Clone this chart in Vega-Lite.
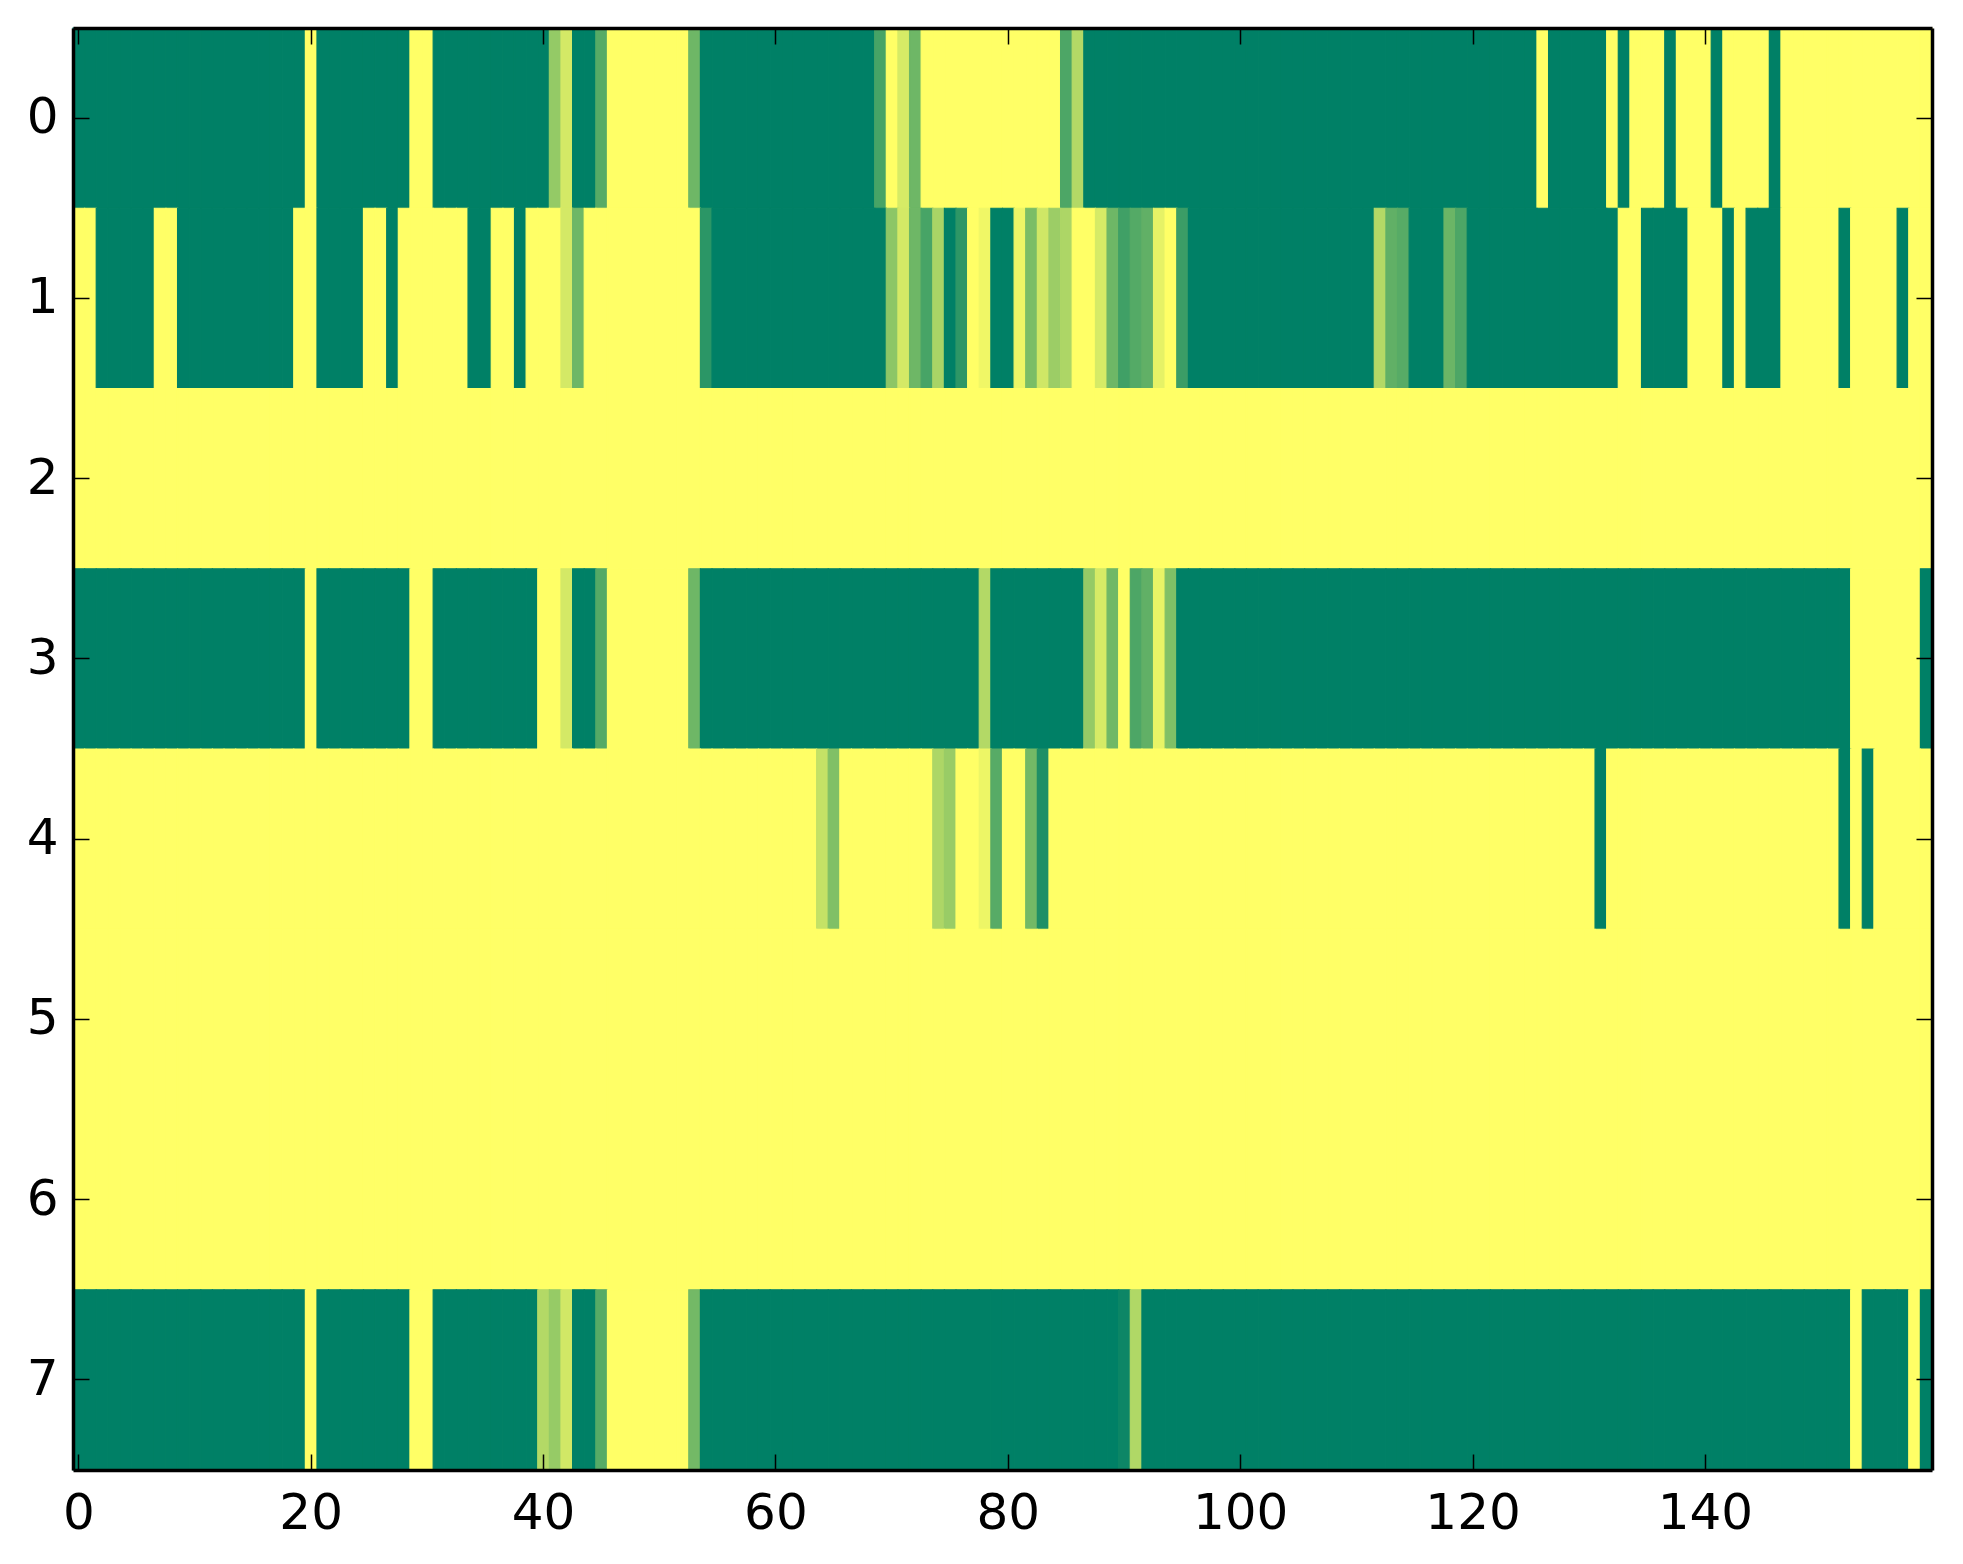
{
  "$schema": "https://vega.github.io/schema/vega-lite/v6.json",
  "width": 1859,
  "height": 1442,
  "autosize": {"type": "none"},
  "padding": {"left": 73, "top": 28, "right": 31, "bottom": 94},
  "background": "white",
  "config": {
    "view": {"stroke": null},
    "axis": {
      "labelFont": "DejaVu Sans",
      "labelFontSize": 50,
      "labelColor": "black",
      "domainColor": "black",
      "domainWidth": 3.5,
      "tickColor": "black",
      "tickWidth": 1.5,
      "tickSize": -16,
      "grid": false,
      "title": null
    }
  },
  "data": {
    "values": [
      {"r":0,"c":0,"v":1},{"r":0,"c":1,"v":1},{"r":0,"c":2,"v":1},{"r":0,"c":3,"v":1},{"r":0,"c":4,"v":1},{"r":0,"c":5,"v":1},{"r":0,"c":6,"v":1},{"r":0,"c":7,"v":1},{"r":0,"c":8,"v":1},{"r":0,"c":9,"v":1},
      {"r":0,"c":10,"v":1},{"r":0,"c":11,"v":1},{"r":0,"c":12,"v":1},{"r":0,"c":13,"v":1},{"r":0,"c":14,"v":1},{"r":0,"c":15,"v":1},{"r":0,"c":16,"v":1},{"r":0,"c":17,"v":1},{"r":0,"c":18,"v":1},{"r":0,"c":19,"v":1},
      {"r":0,"c":20,"v":0},{"r":0,"c":21,"v":1},{"r":0,"c":22,"v":1},{"r":0,"c":23,"v":1},{"r":0,"c":24,"v":1},{"r":0,"c":25,"v":1},{"r":0,"c":26,"v":1},{"r":0,"c":27,"v":1},{"r":0,"c":28,"v":1},{"r":0,"c":29,"v":0},
      {"r":0,"c":30,"v":0},{"r":0,"c":31,"v":1},{"r":0,"c":32,"v":1},{"r":0,"c":33,"v":1},{"r":0,"c":34,"v":1},{"r":0,"c":35,"v":1},{"r":0,"c":36,"v":1},{"r":0,"c":37,"v":1},{"r":0,"c":38,"v":1},{"r":0,"c":39,"v":1},
      {"r":0,"c":40,"v":1},{"r":0,"c":41,"v":0.42},{"r":0,"c":42,"v":0.17},{"r":0,"c":43,"v":1},{"r":0,"c":44,"v":1},{"r":0,"c":45,"v":0.66},{"r":0,"c":46,"v":0},{"r":0,"c":47,"v":0},{"r":0,"c":48,"v":0},{"r":0,"c":49,"v":0},
      {"r":0,"c":50,"v":0},{"r":0,"c":51,"v":0},{"r":0,"c":52,"v":0},{"r":0,"c":53,"v":0.57},{"r":0,"c":54,"v":1},{"r":0,"c":55,"v":1},{"r":0,"c":56,"v":1},{"r":0,"c":57,"v":1},{"r":0,"c":58,"v":1},{"r":0,"c":59,"v":1},
      {"r":0,"c":60,"v":1},{"r":0,"c":61,"v":1},{"r":0,"c":62,"v":1},{"r":0,"c":63,"v":1},{"r":0,"c":64,"v":1},{"r":0,"c":65,"v":1},{"r":0,"c":66,"v":1},{"r":0,"c":67,"v":1},{"r":0,"c":68,"v":1},{"r":0,"c":69,"v":0.72},
      {"r":0,"c":70,"v":0},{"r":0,"c":71,"v":0.16},{"r":0,"c":72,"v":0.57},{"r":0,"c":73,"v":0},{"r":0,"c":74,"v":0},{"r":0,"c":75,"v":0},{"r":0,"c":76,"v":0},{"r":0,"c":77,"v":0},{"r":0,"c":78,"v":0},{"r":0,"c":79,"v":0},
      {"r":0,"c":80,"v":0},{"r":0,"c":81,"v":0},{"r":0,"c":82,"v":0},{"r":0,"c":83,"v":0},{"r":0,"c":84,"v":0},{"r":0,"c":85,"v":0.7},{"r":0,"c":86,"v":0.3},{"r":0,"c":87,"v":1},{"r":0,"c":88,"v":1},{"r":0,"c":89,"v":1},
      {"r":0,"c":90,"v":1},{"r":0,"c":91,"v":1},{"r":0,"c":92,"v":1},{"r":0,"c":93,"v":1},{"r":0,"c":94,"v":1},{"r":0,"c":95,"v":1},{"r":0,"c":96,"v":1},{"r":0,"c":97,"v":1},{"r":0,"c":98,"v":1},{"r":0,"c":99,"v":1},
      {"r":0,"c":100,"v":1},{"r":0,"c":101,"v":1},{"r":0,"c":102,"v":1},{"r":0,"c":103,"v":1},{"r":0,"c":104,"v":1},{"r":0,"c":105,"v":1},{"r":0,"c":106,"v":1},{"r":0,"c":107,"v":1},{"r":0,"c":108,"v":1},{"r":0,"c":109,"v":1},
      {"r":0,"c":110,"v":1},{"r":0,"c":111,"v":1},{"r":0,"c":112,"v":1},{"r":0,"c":113,"v":1},{"r":0,"c":114,"v":1},{"r":0,"c":115,"v":1},{"r":0,"c":116,"v":1},{"r":0,"c":117,"v":1},{"r":0,"c":118,"v":1},{"r":0,"c":119,"v":1},
      {"r":0,"c":120,"v":1},{"r":0,"c":121,"v":1},{"r":0,"c":122,"v":1},{"r":0,"c":123,"v":1},{"r":0,"c":124,"v":1},{"r":0,"c":125,"v":1},{"r":0,"c":126,"v":0},{"r":0,"c":127,"v":1},{"r":0,"c":128,"v":1},{"r":0,"c":129,"v":1},
      {"r":0,"c":130,"v":1},{"r":0,"c":131,"v":1},{"r":0,"c":132,"v":0},{"r":0,"c":133,"v":1},{"r":0,"c":134,"v":0},{"r":0,"c":135,"v":0},{"r":0,"c":136,"v":0},{"r":0,"c":137,"v":1},{"r":0,"c":138,"v":0},{"r":0,"c":139,"v":0},
      {"r":0,"c":140,"v":0},{"r":0,"c":141,"v":1},{"r":0,"c":142,"v":0},{"r":0,"c":143,"v":0},{"r":0,"c":144,"v":0},{"r":0,"c":145,"v":0},{"r":0,"c":146,"v":1},{"r":0,"c":147,"v":0},{"r":0,"c":148,"v":0},{"r":0,"c":149,"v":0},
      {"r":0,"c":150,"v":0},{"r":0,"c":151,"v":0},{"r":0,"c":152,"v":0},{"r":0,"c":153,"v":0},{"r":0,"c":154,"v":0},{"r":0,"c":155,"v":0},{"r":0,"c":156,"v":0},{"r":0,"c":157,"v":0},{"r":0,"c":158,"v":0},{"r":0,"c":159,"v":0},

      {"r":1,"c":0,"v":0},{"r":1,"c":1,"v":0},{"r":1,"c":2,"v":1},{"r":1,"c":3,"v":1},{"r":1,"c":4,"v":1},{"r":1,"c":5,"v":1},{"r":1,"c":6,"v":1},{"r":1,"c":7,"v":0},{"r":1,"c":8,"v":0},{"r":1,"c":9,"v":1},
      {"r":1,"c":10,"v":1},{"r":1,"c":11,"v":1},{"r":1,"c":12,"v":1},{"r":1,"c":13,"v":1},{"r":1,"c":14,"v":1},{"r":1,"c":15,"v":1},{"r":1,"c":16,"v":1},{"r":1,"c":17,"v":1},{"r":1,"c":18,"v":1},{"r":1,"c":19,"v":0},
      {"r":1,"c":20,"v":0},{"r":1,"c":21,"v":1},{"r":1,"c":22,"v":1},{"r":1,"c":23,"v":1},{"r":1,"c":24,"v":1},{"r":1,"c":25,"v":0},{"r":1,"c":26,"v":0},{"r":1,"c":27,"v":1},{"r":1,"c":28,"v":0},{"r":1,"c":29,"v":0},
      {"r":1,"c":30,"v":0},{"r":1,"c":31,"v":0},{"r":1,"c":32,"v":0},{"r":1,"c":33,"v":0},{"r":1,"c":34,"v":1},{"r":1,"c":35,"v":1},{"r":1,"c":36,"v":0},{"r":1,"c":37,"v":0},{"r":1,"c":38,"v":1},{"r":1,"c":39,"v":0},
      {"r":1,"c":40,"v":0},{"r":1,"c":41,"v":0},{"r":1,"c":42,"v":0.17},{"r":1,"c":43,"v":0.57},{"r":1,"c":44,"v":0},{"r":1,"c":45,"v":0},{"r":1,"c":46,"v":0},{"r":1,"c":47,"v":0},{"r":1,"c":48,"v":0},{"r":1,"c":49,"v":0},
      {"r":1,"c":50,"v":0},{"r":1,"c":51,"v":0},{"r":1,"c":52,"v":0},{"r":1,"c":53,"v":0},{"r":1,"c":54,"v":0.83},{"r":1,"c":55,"v":1},{"r":1,"c":56,"v":1},{"r":1,"c":57,"v":1},{"r":1,"c":58,"v":1},{"r":1,"c":59,"v":1},
      {"r":1,"c":60,"v":1},{"r":1,"c":61,"v":1},{"r":1,"c":62,"v":1},{"r":1,"c":63,"v":1},{"r":1,"c":64,"v":1},{"r":1,"c":65,"v":1},{"r":1,"c":66,"v":1},{"r":1,"c":67,"v":1},{"r":1,"c":68,"v":1},{"r":1,"c":69,"v":1},
      {"r":1,"c":70,"v":0.45},{"r":1,"c":71,"v":0.17},{"r":1,"c":72,"v":0.57},{"r":1,"c":73,"v":0.72},{"r":1,"c":74,"v":0.34},{"r":1,"c":75,"v":1},{"r":1,"c":76,"v":0.82},{"r":1,"c":77,"v":0},{"r":1,"c":78,"v":0.06},{"r":1,"c":79,"v":1},
      {"r":1,"c":80,"v":1},{"r":1,"c":81,"v":0.07},{"r":1,"c":82,"v":0.52},{"r":1,"c":83,"v":0.19},{"r":1,"c":84,"v":0.39},{"r":1,"c":85,"v":0.32},{"r":1,"c":86,"v":0},{"r":1,"c":87,"v":0},{"r":1,"c":88,"v":0.16},{"r":1,"c":89,"v":0.57},
      {"r":1,"c":90,"v":0.75},{"r":1,"c":91,"v":0.67},{"r":1,"c":92,"v":0.62},{"r":1,"c":93,"v":0.1},{"r":1,"c":94,"v":0},{"r":1,"c":95,"v":0.77},{"r":1,"c":96,"v":1},{"r":1,"c":97,"v":1},{"r":1,"c":98,"v":1},{"r":1,"c":99,"v":1},
      {"r":1,"c":100,"v":1},{"r":1,"c":101,"v":1},{"r":1,"c":102,"v":1},{"r":1,"c":103,"v":1},{"r":1,"c":104,"v":1},{"r":1,"c":105,"v":1},{"r":1,"c":106,"v":1},{"r":1,"c":107,"v":1},{"r":1,"c":108,"v":1},{"r":1,"c":109,"v":1},
      {"r":1,"c":110,"v":1},{"r":1,"c":111,"v":1},{"r":1,"c":112,"v":0.3},{"r":1,"c":113,"v":0.62},{"r":1,"c":114,"v":0.66},{"r":1,"c":115,"v":1},{"r":1,"c":116,"v":1},{"r":1,"c":117,"v":1},{"r":1,"c":118,"v":0.58},{"r":1,"c":119,"v":0.7},
      {"r":1,"c":120,"v":1},{"r":1,"c":121,"v":1},{"r":1,"c":122,"v":1},{"r":1,"c":123,"v":1},{"r":1,"c":124,"v":1},{"r":1,"c":125,"v":1},{"r":1,"c":126,"v":1},{"r":1,"c":127,"v":1},{"r":1,"c":128,"v":1},{"r":1,"c":129,"v":1},
      {"r":1,"c":130,"v":1},{"r":1,"c":131,"v":1},{"r":1,"c":132,"v":1},{"r":1,"c":133,"v":0},{"r":1,"c":134,"v":0},{"r":1,"c":135,"v":1},{"r":1,"c":136,"v":1},{"r":1,"c":137,"v":1},{"r":1,"c":138,"v":1},{"r":1,"c":139,"v":0},
      {"r":1,"c":140,"v":0},{"r":1,"c":141,"v":0},{"r":1,"c":142,"v":1},{"r":1,"c":143,"v":0},{"r":1,"c":144,"v":1},{"r":1,"c":145,"v":1},{"r":1,"c":146,"v":1},{"r":1,"c":147,"v":0},{"r":1,"c":148,"v":0},{"r":1,"c":149,"v":0},
      {"r":1,"c":150,"v":0},{"r":1,"c":151,"v":0},{"r":1,"c":152,"v":1},{"r":1,"c":153,"v":0},{"r":1,"c":154,"v":0},{"r":1,"c":155,"v":0},{"r":1,"c":156,"v":0},{"r":1,"c":157,"v":1},{"r":1,"c":158,"v":0},{"r":1,"c":159,"v":0},

      {"r":2,"c":0,"v":0},{"r":2,"c":1,"v":0},{"r":2,"c":2,"v":0},{"r":2,"c":3,"v":0},{"r":2,"c":4,"v":0},{"r":2,"c":5,"v":0},{"r":2,"c":6,"v":0},{"r":2,"c":7,"v":0},{"r":2,"c":8,"v":0},{"r":2,"c":9,"v":0},
      {"r":2,"c":10,"v":0},{"r":2,"c":11,"v":0},{"r":2,"c":12,"v":0},{"r":2,"c":13,"v":0},{"r":2,"c":14,"v":0},{"r":2,"c":15,"v":0},{"r":2,"c":16,"v":0},{"r":2,"c":17,"v":0},{"r":2,"c":18,"v":0},{"r":2,"c":19,"v":0},
      {"r":2,"c":20,"v":0},{"r":2,"c":21,"v":0},{"r":2,"c":22,"v":0},{"r":2,"c":23,"v":0},{"r":2,"c":24,"v":0},{"r":2,"c":25,"v":0},{"r":2,"c":26,"v":0},{"r":2,"c":27,"v":0},{"r":2,"c":28,"v":0},{"r":2,"c":29,"v":0},
      {"r":2,"c":30,"v":0},{"r":2,"c":31,"v":0},{"r":2,"c":32,"v":0},{"r":2,"c":33,"v":0},{"r":2,"c":34,"v":0},{"r":2,"c":35,"v":0},{"r":2,"c":36,"v":0},{"r":2,"c":37,"v":0},{"r":2,"c":38,"v":0},{"r":2,"c":39,"v":0},
      {"r":2,"c":40,"v":0},{"r":2,"c":41,"v":0},{"r":2,"c":42,"v":0},{"r":2,"c":43,"v":0},{"r":2,"c":44,"v":0},{"r":2,"c":45,"v":0},{"r":2,"c":46,"v":0},{"r":2,"c":47,"v":0},{"r":2,"c":48,"v":0},{"r":2,"c":49,"v":0},
      {"r":2,"c":50,"v":0},{"r":2,"c":51,"v":0},{"r":2,"c":52,"v":0},{"r":2,"c":53,"v":0},{"r":2,"c":54,"v":0},{"r":2,"c":55,"v":0},{"r":2,"c":56,"v":0},{"r":2,"c":57,"v":0},{"r":2,"c":58,"v":0},{"r":2,"c":59,"v":0},
      {"r":2,"c":60,"v":0},{"r":2,"c":61,"v":0},{"r":2,"c":62,"v":0},{"r":2,"c":63,"v":0},{"r":2,"c":64,"v":0},{"r":2,"c":65,"v":0},{"r":2,"c":66,"v":0},{"r":2,"c":67,"v":0},{"r":2,"c":68,"v":0},{"r":2,"c":69,"v":0},
      {"r":2,"c":70,"v":0},{"r":2,"c":71,"v":0},{"r":2,"c":72,"v":0},{"r":2,"c":73,"v":0},{"r":2,"c":74,"v":0},{"r":2,"c":75,"v":0},{"r":2,"c":76,"v":0},{"r":2,"c":77,"v":0},{"r":2,"c":78,"v":0},{"r":2,"c":79,"v":0},
      {"r":2,"c":80,"v":0},{"r":2,"c":81,"v":0},{"r":2,"c":82,"v":0},{"r":2,"c":83,"v":0},{"r":2,"c":84,"v":0},{"r":2,"c":85,"v":0},{"r":2,"c":86,"v":0},{"r":2,"c":87,"v":0},{"r":2,"c":88,"v":0},{"r":2,"c":89,"v":0},
      {"r":2,"c":90,"v":0},{"r":2,"c":91,"v":0},{"r":2,"c":92,"v":0},{"r":2,"c":93,"v":0},{"r":2,"c":94,"v":0},{"r":2,"c":95,"v":0},{"r":2,"c":96,"v":0},{"r":2,"c":97,"v":0},{"r":2,"c":98,"v":0},{"r":2,"c":99,"v":0},
      {"r":2,"c":100,"v":0},{"r":2,"c":101,"v":0},{"r":2,"c":102,"v":0},{"r":2,"c":103,"v":0},{"r":2,"c":104,"v":0},{"r":2,"c":105,"v":0},{"r":2,"c":106,"v":0},{"r":2,"c":107,"v":0},{"r":2,"c":108,"v":0},{"r":2,"c":109,"v":0},
      {"r":2,"c":110,"v":0},{"r":2,"c":111,"v":0},{"r":2,"c":112,"v":0},{"r":2,"c":113,"v":0},{"r":2,"c":114,"v":0},{"r":2,"c":115,"v":0},{"r":2,"c":116,"v":0},{"r":2,"c":117,"v":0},{"r":2,"c":118,"v":0},{"r":2,"c":119,"v":0},
      {"r":2,"c":120,"v":0},{"r":2,"c":121,"v":0},{"r":2,"c":122,"v":0},{"r":2,"c":123,"v":0},{"r":2,"c":124,"v":0},{"r":2,"c":125,"v":0},{"r":2,"c":126,"v":0},{"r":2,"c":127,"v":0},{"r":2,"c":128,"v":0},{"r":2,"c":129,"v":0},
      {"r":2,"c":130,"v":0},{"r":2,"c":131,"v":0},{"r":2,"c":132,"v":0},{"r":2,"c":133,"v":0},{"r":2,"c":134,"v":0},{"r":2,"c":135,"v":0},{"r":2,"c":136,"v":0},{"r":2,"c":137,"v":0},{"r":2,"c":138,"v":0},{"r":2,"c":139,"v":0},
      {"r":2,"c":140,"v":0},{"r":2,"c":141,"v":0},{"r":2,"c":142,"v":0},{"r":2,"c":143,"v":0},{"r":2,"c":144,"v":0},{"r":2,"c":145,"v":0},{"r":2,"c":146,"v":0},{"r":2,"c":147,"v":0},{"r":2,"c":148,"v":0},{"r":2,"c":149,"v":0},
      {"r":2,"c":150,"v":0},{"r":2,"c":151,"v":0},{"r":2,"c":152,"v":0},{"r":2,"c":153,"v":0},{"r":2,"c":154,"v":0},{"r":2,"c":155,"v":0},{"r":2,"c":156,"v":0},{"r":2,"c":157,"v":0},{"r":2,"c":158,"v":0},{"r":2,"c":159,"v":0},

      {"r":3,"c":0,"v":1},{"r":3,"c":1,"v":1},{"r":3,"c":2,"v":1},{"r":3,"c":3,"v":1},{"r":3,"c":4,"v":1},{"r":3,"c":5,"v":1},{"r":3,"c":6,"v":1},{"r":3,"c":7,"v":1},{"r":3,"c":8,"v":1},{"r":3,"c":9,"v":1},
      {"r":3,"c":10,"v":1},{"r":3,"c":11,"v":1},{"r":3,"c":12,"v":1},{"r":3,"c":13,"v":1},{"r":3,"c":14,"v":1},{"r":3,"c":15,"v":1},{"r":3,"c":16,"v":1},{"r":3,"c":17,"v":1},{"r":3,"c":18,"v":1},{"r":3,"c":19,"v":1},
      {"r":3,"c":20,"v":0},{"r":3,"c":21,"v":1},{"r":3,"c":22,"v":1},{"r":3,"c":23,"v":1},{"r":3,"c":24,"v":1},{"r":3,"c":25,"v":1},{"r":3,"c":26,"v":1},{"r":3,"c":27,"v":1},{"r":3,"c":28,"v":1},{"r":3,"c":29,"v":0},
      {"r":3,"c":30,"v":0},{"r":3,"c":31,"v":1},{"r":3,"c":32,"v":1},{"r":3,"c":33,"v":1},{"r":3,"c":34,"v":1},{"r":3,"c":35,"v":1},{"r":3,"c":36,"v":1},{"r":3,"c":37,"v":1},{"r":3,"c":38,"v":1},{"r":3,"c":39,"v":1},
      {"r":3,"c":40,"v":0},{"r":3,"c":41,"v":0},{"r":3,"c":42,"v":0.17},{"r":3,"c":43,"v":1},{"r":3,"c":44,"v":1},{"r":3,"c":45,"v":0.67},{"r":3,"c":46,"v":0},{"r":3,"c":47,"v":0},{"r":3,"c":48,"v":0},{"r":3,"c":49,"v":0},
      {"r":3,"c":50,"v":0},{"r":3,"c":51,"v":0},{"r":3,"c":52,"v":0},{"r":3,"c":53,"v":0.57},{"r":3,"c":54,"v":1},{"r":3,"c":55,"v":1},{"r":3,"c":56,"v":1},{"r":3,"c":57,"v":1},{"r":3,"c":58,"v":1},{"r":3,"c":59,"v":1},
      {"r":3,"c":60,"v":1},{"r":3,"c":61,"v":1},{"r":3,"c":62,"v":1},{"r":3,"c":63,"v":1},{"r":3,"c":64,"v":1},{"r":3,"c":65,"v":1},{"r":3,"c":66,"v":1},{"r":3,"c":67,"v":1},{"r":3,"c":68,"v":1},{"r":3,"c":69,"v":1},
      {"r":3,"c":70,"v":1},{"r":3,"c":71,"v":1},{"r":3,"c":72,"v":1},{"r":3,"c":73,"v":1},{"r":3,"c":74,"v":1},{"r":3,"c":75,"v":1},{"r":3,"c":76,"v":1},{"r":3,"c":77,"v":1},{"r":3,"c":78,"v":0.3},{"r":3,"c":79,"v":1},
      {"r":3,"c":80,"v":1},{"r":3,"c":81,"v":1},{"r":3,"c":82,"v":1},{"r":3,"c":83,"v":1},{"r":3,"c":84,"v":1},{"r":3,"c":85,"v":1},{"r":3,"c":86,"v":1},{"r":3,"c":87,"v":0.42},{"r":3,"c":88,"v":0.16},{"r":3,"c":89,"v":0.56},
      {"r":3,"c":90,"v":0},{"r":3,"c":91,"v":0.7},{"r":3,"c":92,"v":0.62},{"r":3,"c":93,"v":0.09},{"r":3,"c":94,"v":0.5},{"r":3,"c":95,"v":1},{"r":3,"c":96,"v":1},{"r":3,"c":97,"v":1},{"r":3,"c":98,"v":1},{"r":3,"c":99,"v":1},
      {"r":3,"c":100,"v":1},{"r":3,"c":101,"v":1},{"r":3,"c":102,"v":1},{"r":3,"c":103,"v":1},{"r":3,"c":104,"v":1},{"r":3,"c":105,"v":1},{"r":3,"c":106,"v":1},{"r":3,"c":107,"v":1},{"r":3,"c":108,"v":1},{"r":3,"c":109,"v":1},
      {"r":3,"c":110,"v":1},{"r":3,"c":111,"v":1},{"r":3,"c":112,"v":1},{"r":3,"c":113,"v":1},{"r":3,"c":114,"v":1},{"r":3,"c":115,"v":1},{"r":3,"c":116,"v":1},{"r":3,"c":117,"v":1},{"r":3,"c":118,"v":1},{"r":3,"c":119,"v":1},
      {"r":3,"c":120,"v":1},{"r":3,"c":121,"v":1},{"r":3,"c":122,"v":1},{"r":3,"c":123,"v":1},{"r":3,"c":124,"v":1},{"r":3,"c":125,"v":1},{"r":3,"c":126,"v":1},{"r":3,"c":127,"v":1},{"r":3,"c":128,"v":1},{"r":3,"c":129,"v":1},
      {"r":3,"c":130,"v":1},{"r":3,"c":131,"v":1},{"r":3,"c":132,"v":1},{"r":3,"c":133,"v":1},{"r":3,"c":134,"v":1},{"r":3,"c":135,"v":1},{"r":3,"c":136,"v":1},{"r":3,"c":137,"v":1},{"r":3,"c":138,"v":1},{"r":3,"c":139,"v":1},
      {"r":3,"c":140,"v":1},{"r":3,"c":141,"v":1},{"r":3,"c":142,"v":1},{"r":3,"c":143,"v":1},{"r":3,"c":144,"v":1},{"r":3,"c":145,"v":1},{"r":3,"c":146,"v":1},{"r":3,"c":147,"v":1},{"r":3,"c":148,"v":1},{"r":3,"c":149,"v":1},
      {"r":3,"c":150,"v":1},{"r":3,"c":151,"v":1},{"r":3,"c":152,"v":1},{"r":3,"c":153,"v":0},{"r":3,"c":154,"v":0},{"r":3,"c":155,"v":0},{"r":3,"c":156,"v":0},{"r":3,"c":157,"v":0},{"r":3,"c":158,"v":0},{"r":3,"c":159,"v":1},

      {"r":4,"c":0,"v":0},{"r":4,"c":1,"v":0},{"r":4,"c":2,"v":0},{"r":4,"c":3,"v":0},{"r":4,"c":4,"v":0},{"r":4,"c":5,"v":0},{"r":4,"c":6,"v":0},{"r":4,"c":7,"v":0},{"r":4,"c":8,"v":0},{"r":4,"c":9,"v":0},
      {"r":4,"c":10,"v":0},{"r":4,"c":11,"v":0},{"r":4,"c":12,"v":0},{"r":4,"c":13,"v":0},{"r":4,"c":14,"v":0},{"r":4,"c":15,"v":0},{"r":4,"c":16,"v":0},{"r":4,"c":17,"v":0},{"r":4,"c":18,"v":0},{"r":4,"c":19,"v":0},
      {"r":4,"c":20,"v":0},{"r":4,"c":21,"v":0},{"r":4,"c":22,"v":0},{"r":4,"c":23,"v":0},{"r":4,"c":24,"v":0},{"r":4,"c":25,"v":0},{"r":4,"c":26,"v":0},{"r":4,"c":27,"v":0},{"r":4,"c":28,"v":0},{"r":4,"c":29,"v":0},
      {"r":4,"c":30,"v":0},{"r":4,"c":31,"v":0},{"r":4,"c":32,"v":0},{"r":4,"c":33,"v":0},{"r":4,"c":34,"v":0},{"r":4,"c":35,"v":0},{"r":4,"c":36,"v":0},{"r":4,"c":37,"v":0},{"r":4,"c":38,"v":0},{"r":4,"c":39,"v":0},
      {"r":4,"c":40,"v":0},{"r":4,"c":41,"v":0},{"r":4,"c":42,"v":0},{"r":4,"c":43,"v":0},{"r":4,"c":44,"v":0},{"r":4,"c":45,"v":0},{"r":4,"c":46,"v":0},{"r":4,"c":47,"v":0},{"r":4,"c":48,"v":0},{"r":4,"c":49,"v":0},
      {"r":4,"c":50,"v":0},{"r":4,"c":51,"v":0},{"r":4,"c":52,"v":0},{"r":4,"c":53,"v":0},{"r":4,"c":54,"v":0},{"r":4,"c":55,"v":0},{"r":4,"c":56,"v":0},{"r":4,"c":57,"v":0},{"r":4,"c":58,"v":0},{"r":4,"c":59,"v":0},
      {"r":4,"c":60,"v":0},{"r":4,"c":61,"v":0},{"r":4,"c":62,"v":0},{"r":4,"c":63,"v":0},{"r":4,"c":64,"v":0.23},{"r":4,"c":65,"v":0.5},{"r":4,"c":66,"v":0},{"r":4,"c":67,"v":0},{"r":4,"c":68,"v":0},{"r":4,"c":69,"v":0},
      {"r":4,"c":70,"v":0},{"r":4,"c":71,"v":0},{"r":4,"c":72,"v":0},{"r":4,"c":73,"v":0},{"r":4,"c":74,"v":0.32},{"r":4,"c":75,"v":0.4},{"r":4,"c":76,"v":0},{"r":4,"c":77,"v":0},{"r":4,"c":78,"v":0.07},{"r":4,"c":79,"v":0.66},
      {"r":4,"c":80,"v":0},{"r":4,"c":81,"v":0},{"r":4,"c":82,"v":0.55},{"r":4,"c":83,"v":0.88},{"r":4,"c":84,"v":0},{"r":4,"c":85,"v":0},{"r":4,"c":86,"v":0},{"r":4,"c":87,"v":0},{"r":4,"c":88,"v":0},{"r":4,"c":89,"v":0},
      {"r":4,"c":90,"v":0},{"r":4,"c":91,"v":0},{"r":4,"c":92,"v":0},{"r":4,"c":93,"v":0},{"r":4,"c":94,"v":0},{"r":4,"c":95,"v":0},{"r":4,"c":96,"v":0},{"r":4,"c":97,"v":0},{"r":4,"c":98,"v":0},{"r":4,"c":99,"v":0},
      {"r":4,"c":100,"v":0},{"r":4,"c":101,"v":0},{"r":4,"c":102,"v":0},{"r":4,"c":103,"v":0},{"r":4,"c":104,"v":0},{"r":4,"c":105,"v":0},{"r":4,"c":106,"v":0},{"r":4,"c":107,"v":0},{"r":4,"c":108,"v":0},{"r":4,"c":109,"v":0},
      {"r":4,"c":110,"v":0},{"r":4,"c":111,"v":0},{"r":4,"c":112,"v":0},{"r":4,"c":113,"v":0},{"r":4,"c":114,"v":0},{"r":4,"c":115,"v":0},{"r":4,"c":116,"v":0},{"r":4,"c":117,"v":0},{"r":4,"c":118,"v":0},{"r":4,"c":119,"v":0},
      {"r":4,"c":120,"v":0},{"r":4,"c":121,"v":0},{"r":4,"c":122,"v":0},{"r":4,"c":123,"v":0},{"r":4,"c":124,"v":0},{"r":4,"c":125,"v":0},{"r":4,"c":126,"v":0},{"r":4,"c":127,"v":0},{"r":4,"c":128,"v":0},{"r":4,"c":129,"v":0},
      {"r":4,"c":130,"v":0},{"r":4,"c":131,"v":1},{"r":4,"c":132,"v":0},{"r":4,"c":133,"v":0},{"r":4,"c":134,"v":0},{"r":4,"c":135,"v":0},{"r":4,"c":136,"v":0},{"r":4,"c":137,"v":0},{"r":4,"c":138,"v":0},{"r":4,"c":139,"v":0},
      {"r":4,"c":140,"v":0},{"r":4,"c":141,"v":0},{"r":4,"c":142,"v":0},{"r":4,"c":143,"v":0},{"r":4,"c":144,"v":0},{"r":4,"c":145,"v":0},{"r":4,"c":146,"v":0},{"r":4,"c":147,"v":0},{"r":4,"c":148,"v":0},{"r":4,"c":149,"v":0},
      {"r":4,"c":150,"v":0},{"r":4,"c":151,"v":0},{"r":4,"c":152,"v":1},{"r":4,"c":153,"v":0},{"r":4,"c":154,"v":1},{"r":4,"c":155,"v":0},{"r":4,"c":156,"v":0},{"r":4,"c":157,"v":0},{"r":4,"c":158,"v":0},{"r":4,"c":159,"v":0},

      {"r":5,"c":0,"v":0},{"r":5,"c":1,"v":0},{"r":5,"c":2,"v":0},{"r":5,"c":3,"v":0},{"r":5,"c":4,"v":0},{"r":5,"c":5,"v":0},{"r":5,"c":6,"v":0},{"r":5,"c":7,"v":0},{"r":5,"c":8,"v":0},{"r":5,"c":9,"v":0},
      {"r":5,"c":10,"v":0},{"r":5,"c":11,"v":0},{"r":5,"c":12,"v":0},{"r":5,"c":13,"v":0},{"r":5,"c":14,"v":0},{"r":5,"c":15,"v":0},{"r":5,"c":16,"v":0},{"r":5,"c":17,"v":0},{"r":5,"c":18,"v":0},{"r":5,"c":19,"v":0},
      {"r":5,"c":20,"v":0},{"r":5,"c":21,"v":0},{"r":5,"c":22,"v":0},{"r":5,"c":23,"v":0},{"r":5,"c":24,"v":0},{"r":5,"c":25,"v":0},{"r":5,"c":26,"v":0},{"r":5,"c":27,"v":0},{"r":5,"c":28,"v":0},{"r":5,"c":29,"v":0},
      {"r":5,"c":30,"v":0},{"r":5,"c":31,"v":0},{"r":5,"c":32,"v":0},{"r":5,"c":33,"v":0},{"r":5,"c":34,"v":0},{"r":5,"c":35,"v":0},{"r":5,"c":36,"v":0},{"r":5,"c":37,"v":0},{"r":5,"c":38,"v":0},{"r":5,"c":39,"v":0},
      {"r":5,"c":40,"v":0},{"r":5,"c":41,"v":0},{"r":5,"c":42,"v":0},{"r":5,"c":43,"v":0},{"r":5,"c":44,"v":0},{"r":5,"c":45,"v":0},{"r":5,"c":46,"v":0},{"r":5,"c":47,"v":0},{"r":5,"c":48,"v":0},{"r":5,"c":49,"v":0},
      {"r":5,"c":50,"v":0},{"r":5,"c":51,"v":0},{"r":5,"c":52,"v":0},{"r":5,"c":53,"v":0},{"r":5,"c":54,"v":0},{"r":5,"c":55,"v":0},{"r":5,"c":56,"v":0},{"r":5,"c":57,"v":0},{"r":5,"c":58,"v":0},{"r":5,"c":59,"v":0},
      {"r":5,"c":60,"v":0},{"r":5,"c":61,"v":0},{"r":5,"c":62,"v":0},{"r":5,"c":63,"v":0},{"r":5,"c":64,"v":0},{"r":5,"c":65,"v":0},{"r":5,"c":66,"v":0},{"r":5,"c":67,"v":0},{"r":5,"c":68,"v":0},{"r":5,"c":69,"v":0},
      {"r":5,"c":70,"v":0},{"r":5,"c":71,"v":0},{"r":5,"c":72,"v":0},{"r":5,"c":73,"v":0},{"r":5,"c":74,"v":0},{"r":5,"c":75,"v":0},{"r":5,"c":76,"v":0},{"r":5,"c":77,"v":0},{"r":5,"c":78,"v":0},{"r":5,"c":79,"v":0},
      {"r":5,"c":80,"v":0},{"r":5,"c":81,"v":0},{"r":5,"c":82,"v":0},{"r":5,"c":83,"v":0},{"r":5,"c":84,"v":0},{"r":5,"c":85,"v":0},{"r":5,"c":86,"v":0},{"r":5,"c":87,"v":0},{"r":5,"c":88,"v":0},{"r":5,"c":89,"v":0},
      {"r":5,"c":90,"v":0},{"r":5,"c":91,"v":0},{"r":5,"c":92,"v":0},{"r":5,"c":93,"v":0},{"r":5,"c":94,"v":0},{"r":5,"c":95,"v":0},{"r":5,"c":96,"v":0},{"r":5,"c":97,"v":0},{"r":5,"c":98,"v":0},{"r":5,"c":99,"v":0},
      {"r":5,"c":100,"v":0},{"r":5,"c":101,"v":0},{"r":5,"c":102,"v":0},{"r":5,"c":103,"v":0},{"r":5,"c":104,"v":0},{"r":5,"c":105,"v":0},{"r":5,"c":106,"v":0},{"r":5,"c":107,"v":0},{"r":5,"c":108,"v":0},{"r":5,"c":109,"v":0},
      {"r":5,"c":110,"v":0},{"r":5,"c":111,"v":0},{"r":5,"c":112,"v":0},{"r":5,"c":113,"v":0},{"r":5,"c":114,"v":0},{"r":5,"c":115,"v":0},{"r":5,"c":116,"v":0},{"r":5,"c":117,"v":0},{"r":5,"c":118,"v":0},{"r":5,"c":119,"v":0},
      {"r":5,"c":120,"v":0},{"r":5,"c":121,"v":0},{"r":5,"c":122,"v":0},{"r":5,"c":123,"v":0},{"r":5,"c":124,"v":0},{"r":5,"c":125,"v":0},{"r":5,"c":126,"v":0},{"r":5,"c":127,"v":0},{"r":5,"c":128,"v":0},{"r":5,"c":129,"v":0},
      {"r":5,"c":130,"v":0},{"r":5,"c":131,"v":0},{"r":5,"c":132,"v":0},{"r":5,"c":133,"v":0},{"r":5,"c":134,"v":0},{"r":5,"c":135,"v":0},{"r":5,"c":136,"v":0},{"r":5,"c":137,"v":0},{"r":5,"c":138,"v":0},{"r":5,"c":139,"v":0},
      {"r":5,"c":140,"v":0},{"r":5,"c":141,"v":0},{"r":5,"c":142,"v":0},{"r":5,"c":143,"v":0},{"r":5,"c":144,"v":0},{"r":5,"c":145,"v":0},{"r":5,"c":146,"v":0},{"r":5,"c":147,"v":0},{"r":5,"c":148,"v":0},{"r":5,"c":149,"v":0},
      {"r":5,"c":150,"v":0},{"r":5,"c":151,"v":0},{"r":5,"c":152,"v":0},{"r":5,"c":153,"v":0},{"r":5,"c":154,"v":0},{"r":5,"c":155,"v":0},{"r":5,"c":156,"v":0},{"r":5,"c":157,"v":0},{"r":5,"c":158,"v":0},{"r":5,"c":159,"v":0},

      {"r":6,"c":0,"v":0},{"r":6,"c":1,"v":0},{"r":6,"c":2,"v":0},{"r":6,"c":3,"v":0},{"r":6,"c":4,"v":0},{"r":6,"c":5,"v":0},{"r":6,"c":6,"v":0},{"r":6,"c":7,"v":0},{"r":6,"c":8,"v":0},{"r":6,"c":9,"v":0},
      {"r":6,"c":10,"v":0},{"r":6,"c":11,"v":0},{"r":6,"c":12,"v":0},{"r":6,"c":13,"v":0},{"r":6,"c":14,"v":0},{"r":6,"c":15,"v":0},{"r":6,"c":16,"v":0},{"r":6,"c":17,"v":0},{"r":6,"c":18,"v":0},{"r":6,"c":19,"v":0},
      {"r":6,"c":20,"v":0},{"r":6,"c":21,"v":0},{"r":6,"c":22,"v":0},{"r":6,"c":23,"v":0},{"r":6,"c":24,"v":0},{"r":6,"c":25,"v":0},{"r":6,"c":26,"v":0},{"r":6,"c":27,"v":0},{"r":6,"c":28,"v":0},{"r":6,"c":29,"v":0},
      {"r":6,"c":30,"v":0},{"r":6,"c":31,"v":0},{"r":6,"c":32,"v":0},{"r":6,"c":33,"v":0},{"r":6,"c":34,"v":0},{"r":6,"c":35,"v":0},{"r":6,"c":36,"v":0},{"r":6,"c":37,"v":0},{"r":6,"c":38,"v":0},{"r":6,"c":39,"v":0},
      {"r":6,"c":40,"v":0},{"r":6,"c":41,"v":0},{"r":6,"c":42,"v":0},{"r":6,"c":43,"v":0},{"r":6,"c":44,"v":0},{"r":6,"c":45,"v":0},{"r":6,"c":46,"v":0},{"r":6,"c":47,"v":0},{"r":6,"c":48,"v":0},{"r":6,"c":49,"v":0},
      {"r":6,"c":50,"v":0},{"r":6,"c":51,"v":0},{"r":6,"c":52,"v":0},{"r":6,"c":53,"v":0},{"r":6,"c":54,"v":0},{"r":6,"c":55,"v":0},{"r":6,"c":56,"v":0},{"r":6,"c":57,"v":0},{"r":6,"c":58,"v":0},{"r":6,"c":59,"v":0},
      {"r":6,"c":60,"v":0},{"r":6,"c":61,"v":0},{"r":6,"c":62,"v":0},{"r":6,"c":63,"v":0},{"r":6,"c":64,"v":0},{"r":6,"c":65,"v":0},{"r":6,"c":66,"v":0},{"r":6,"c":67,"v":0},{"r":6,"c":68,"v":0},{"r":6,"c":69,"v":0},
      {"r":6,"c":70,"v":0},{"r":6,"c":71,"v":0},{"r":6,"c":72,"v":0},{"r":6,"c":73,"v":0},{"r":6,"c":74,"v":0},{"r":6,"c":75,"v":0},{"r":6,"c":76,"v":0},{"r":6,"c":77,"v":0},{"r":6,"c":78,"v":0},{"r":6,"c":79,"v":0},
      {"r":6,"c":80,"v":0},{"r":6,"c":81,"v":0},{"r":6,"c":82,"v":0},{"r":6,"c":83,"v":0},{"r":6,"c":84,"v":0},{"r":6,"c":85,"v":0},{"r":6,"c":86,"v":0},{"r":6,"c":87,"v":0},{"r":6,"c":88,"v":0},{"r":6,"c":89,"v":0},
      {"r":6,"c":90,"v":0},{"r":6,"c":91,"v":0},{"r":6,"c":92,"v":0},{"r":6,"c":93,"v":0},{"r":6,"c":94,"v":0},{"r":6,"c":95,"v":0},{"r":6,"c":96,"v":0},{"r":6,"c":97,"v":0},{"r":6,"c":98,"v":0},{"r":6,"c":99,"v":0},
      {"r":6,"c":100,"v":0},{"r":6,"c":101,"v":0},{"r":6,"c":102,"v":0},{"r":6,"c":103,"v":0},{"r":6,"c":104,"v":0},{"r":6,"c":105,"v":0},{"r":6,"c":106,"v":0},{"r":6,"c":107,"v":0},{"r":6,"c":108,"v":0},{"r":6,"c":109,"v":0},
      {"r":6,"c":110,"v":0},{"r":6,"c":111,"v":0},{"r":6,"c":112,"v":0},{"r":6,"c":113,"v":0},{"r":6,"c":114,"v":0},{"r":6,"c":115,"v":0},{"r":6,"c":116,"v":0},{"r":6,"c":117,"v":0},{"r":6,"c":118,"v":0},{"r":6,"c":119,"v":0},
      {"r":6,"c":120,"v":0},{"r":6,"c":121,"v":0},{"r":6,"c":122,"v":0},{"r":6,"c":123,"v":0},{"r":6,"c":124,"v":0},{"r":6,"c":125,"v":0},{"r":6,"c":126,"v":0},{"r":6,"c":127,"v":0},{"r":6,"c":128,"v":0},{"r":6,"c":129,"v":0},
      {"r":6,"c":130,"v":0},{"r":6,"c":131,"v":0},{"r":6,"c":132,"v":0},{"r":6,"c":133,"v":0},{"r":6,"c":134,"v":0},{"r":6,"c":135,"v":0},{"r":6,"c":136,"v":0},{"r":6,"c":137,"v":0},{"r":6,"c":138,"v":0},{"r":6,"c":139,"v":0},
      {"r":6,"c":140,"v":0},{"r":6,"c":141,"v":0},{"r":6,"c":142,"v":0},{"r":6,"c":143,"v":0},{"r":6,"c":144,"v":0},{"r":6,"c":145,"v":0},{"r":6,"c":146,"v":0},{"r":6,"c":147,"v":0},{"r":6,"c":148,"v":0},{"r":6,"c":149,"v":0},
      {"r":6,"c":150,"v":0},{"r":6,"c":151,"v":0},{"r":6,"c":152,"v":0},{"r":6,"c":153,"v":0},{"r":6,"c":154,"v":0},{"r":6,"c":155,"v":0},{"r":6,"c":156,"v":0},{"r":6,"c":157,"v":0},{"r":6,"c":158,"v":0},{"r":6,"c":159,"v":0},

      {"r":7,"c":0,"v":1},{"r":7,"c":1,"v":1},{"r":7,"c":2,"v":1},{"r":7,"c":3,"v":1},{"r":7,"c":4,"v":1},{"r":7,"c":5,"v":1},{"r":7,"c":6,"v":1},{"r":7,"c":7,"v":1},{"r":7,"c":8,"v":1},{"r":7,"c":9,"v":1},
      {"r":7,"c":10,"v":1},{"r":7,"c":11,"v":1},{"r":7,"c":12,"v":1},{"r":7,"c":13,"v":1},{"r":7,"c":14,"v":1},{"r":7,"c":15,"v":1},{"r":7,"c":16,"v":1},{"r":7,"c":17,"v":1},{"r":7,"c":18,"v":1},{"r":7,"c":19,"v":1},
      {"r":7,"c":20,"v":0},{"r":7,"c":21,"v":1},{"r":7,"c":22,"v":1},{"r":7,"c":23,"v":1},{"r":7,"c":24,"v":1},{"r":7,"c":25,"v":1},{"r":7,"c":26,"v":1},{"r":7,"c":27,"v":1},{"r":7,"c":28,"v":1},{"r":7,"c":29,"v":0},
      {"r":7,"c":30,"v":0},{"r":7,"c":31,"v":1},{"r":7,"c":32,"v":1},{"r":7,"c":33,"v":1},{"r":7,"c":34,"v":1},{"r":7,"c":35,"v":1},{"r":7,"c":36,"v":1},{"r":7,"c":37,"v":1},{"r":7,"c":38,"v":1},{"r":7,"c":39,"v":1},
      {"r":7,"c":40,"v":0.3},{"r":7,"c":41,"v":0.41},{"r":7,"c":42,"v":0.18},{"r":7,"c":43,"v":1},{"r":7,"c":44,"v":1},{"r":7,"c":45,"v":0.66},{"r":7,"c":46,"v":0},{"r":7,"c":47,"v":0},{"r":7,"c":48,"v":0},{"r":7,"c":49,"v":0},
      {"r":7,"c":50,"v":0},{"r":7,"c":51,"v":0},{"r":7,"c":52,"v":0},{"r":7,"c":53,"v":0.55},{"r":7,"c":54,"v":1},{"r":7,"c":55,"v":1},{"r":7,"c":56,"v":1},{"r":7,"c":57,"v":1},{"r":7,"c":58,"v":1},{"r":7,"c":59,"v":1},
      {"r":7,"c":60,"v":1},{"r":7,"c":61,"v":1},{"r":7,"c":62,"v":1},{"r":7,"c":63,"v":1},{"r":7,"c":64,"v":1},{"r":7,"c":65,"v":1},{"r":7,"c":66,"v":1},{"r":7,"c":67,"v":1},{"r":7,"c":68,"v":1},{"r":7,"c":69,"v":1},
      {"r":7,"c":70,"v":1},{"r":7,"c":71,"v":1},{"r":7,"c":72,"v":1},{"r":7,"c":73,"v":1},{"r":7,"c":74,"v":1},{"r":7,"c":75,"v":1},{"r":7,"c":76,"v":1},{"r":7,"c":77,"v":1},{"r":7,"c":78,"v":1},{"r":7,"c":79,"v":1},
      {"r":7,"c":80,"v":1},{"r":7,"c":81,"v":1},{"r":7,"c":82,"v":1},{"r":7,"c":83,"v":1},{"r":7,"c":84,"v":1},{"r":7,"c":85,"v":1},{"r":7,"c":86,"v":1},{"r":7,"c":87,"v":1},{"r":7,"c":88,"v":1},{"r":7,"c":89,"v":1},
      {"r":7,"c":90,"v":0.95},{"r":7,"c":91,"v":0.31},{"r":7,"c":92,"v":1},{"r":7,"c":93,"v":1},{"r":7,"c":94,"v":1},{"r":7,"c":95,"v":1},{"r":7,"c":96,"v":1},{"r":7,"c":97,"v":1},{"r":7,"c":98,"v":1},{"r":7,"c":99,"v":1},
      {"r":7,"c":100,"v":1},{"r":7,"c":101,"v":1},{"r":7,"c":102,"v":1},{"r":7,"c":103,"v":1},{"r":7,"c":104,"v":1},{"r":7,"c":105,"v":1},{"r":7,"c":106,"v":1},{"r":7,"c":107,"v":1},{"r":7,"c":108,"v":1},{"r":7,"c":109,"v":1},
      {"r":7,"c":110,"v":1},{"r":7,"c":111,"v":1},{"r":7,"c":112,"v":1},{"r":7,"c":113,"v":1},{"r":7,"c":114,"v":1},{"r":7,"c":115,"v":1},{"r":7,"c":116,"v":1},{"r":7,"c":117,"v":1},{"r":7,"c":118,"v":1},{"r":7,"c":119,"v":1},
      {"r":7,"c":120,"v":1},{"r":7,"c":121,"v":1},{"r":7,"c":122,"v":1},{"r":7,"c":123,"v":1},{"r":7,"c":124,"v":1},{"r":7,"c":125,"v":1},{"r":7,"c":126,"v":1},{"r":7,"c":127,"v":1},{"r":7,"c":128,"v":1},{"r":7,"c":129,"v":1},
      {"r":7,"c":130,"v":1},{"r":7,"c":131,"v":1},{"r":7,"c":132,"v":1},{"r":7,"c":133,"v":1},{"r":7,"c":134,"v":1},{"r":7,"c":135,"v":1},{"r":7,"c":136,"v":1},{"r":7,"c":137,"v":1},{"r":7,"c":138,"v":1},{"r":7,"c":139,"v":1},
      {"r":7,"c":140,"v":1},{"r":7,"c":141,"v":1},{"r":7,"c":142,"v":1},{"r":7,"c":143,"v":1},{"r":7,"c":144,"v":1},{"r":7,"c":145,"v":1},{"r":7,"c":146,"v":1},{"r":7,"c":147,"v":1},{"r":7,"c":148,"v":1},{"r":7,"c":149,"v":1},
      {"r":7,"c":150,"v":1},{"r":7,"c":151,"v":1},{"r":7,"c":152,"v":1},{"r":7,"c":153,"v":0},{"r":7,"c":154,"v":1},{"r":7,"c":155,"v":1},{"r":7,"c":156,"v":1},{"r":7,"c":157,"v":1},{"r":7,"c":158,"v":0},{"r":7,"c":159,"v":1}
    ]
  },
  "layer": [
    {
      "mark": {"type": "rect", "strokeWidth": 1.2},
      "encoding": {
        "x": {
          "field": "c", "type": "ordinal",
          "scale": {"paddingInner": 0, "paddingOuter": 0},
          "axis": {"orient": "bottom", "values": [0, 20, 40, 60, 80, 100, 120, 140], "labelAngle": 0, "labelPadding": 34, "labelBaseline": "top"}
        },
        "y": {
          "field": "r", "type": "ordinal",
          "scale": {"paddingInner": 0, "paddingOuter": 0},
          "axis": {"orient": "left", "labelPadding": 31, "labelBaseline": "middle"}
        },
        "fill": {
          "field": "v", "type": "quantitative",
          "scale": {"domain": [0, 1], "range": ["#ffff66", "#008066"], "interpolate": "rgb"},
          "legend": null
        },
        "stroke": {
          "field": "v", "type": "quantitative",
          "scale": {"domain": [0, 1], "range": ["#ffff66", "#008066"], "interpolate": "rgb"},
          "legend": null
        }
      }
    },
    {
      "mark": {"type": "rect", "opacity": 0},
      "encoding": {
        "x": {
          "field": "c", "type": "ordinal",
          "axis": {"orient": "top", "values": [0, 20, 40, 60, 80, 100, 120, 140], "labels": false}
        },
        "y": {
          "field": "r", "type": "ordinal",
          "axis": {"orient": "right", "labels": false}
        }
      }
    }
  ],
  "resolve": {"axis": {"x": "independent", "y": "independent"}}
}
